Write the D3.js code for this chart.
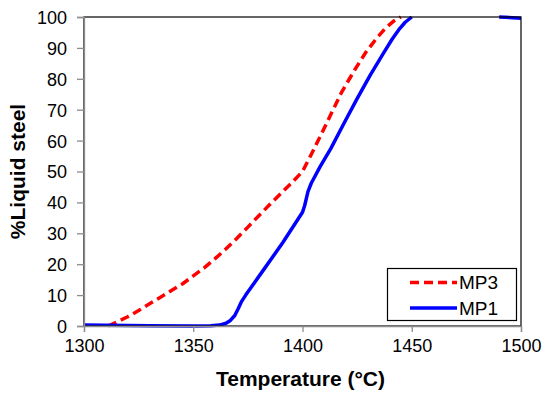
<!DOCTYPE html>
<html>
<head>
<meta charset="utf-8">
<script src="https://cdn.jsdelivr.net/npm/d3@7"></script>
<style>
  body { margin: 0; background: #fff; }
  text { font-family: Arial, "Liberation Sans", sans-serif; }
</style>
</head>
<body>
<svg width="550" height="399"></svg>
<script>
// values
var mp3Temp = [1311, 1315, 1320, 1325, 1330, 1335, 1340, 1345, 1350, 1355, 1360, 1365, 1370, 1375, 1380, 1385, 1390, 1395, 1400, 1404, 1408, 1413, 1418, 1424, 1429, 1434, 1438, 1442, 1445];
var mp3Liq  = [0, 1.3, 3.0, 5.0, 7.2, 9.3, 11.5, 13.6, 16.2, 18.8, 21.8, 25, 28.4, 32, 35.7, 39.3, 42.8, 46.3, 50, 55.5, 61.2, 68.5, 75.8, 83, 88.6, 93.2, 96.4, 98.8, 100];

var mp1Temp = [1300, 1330, 1350, 1358, 1362, 1365, 1367, 1369, 1370.5, 1372, 1374, 1378, 1382, 1391, 1400, 1401, 1402.5, 1404, 1408, 1413, 1419, 1425, 1431, 1437, 1441, 1444, 1447, 1450, null, 1490, 1500];
var mp1Liq  = [0.3, 0.1, 0, 0.1, 0.3, 0.9, 1.8, 3.4, 5.5, 7.8, 10, 14, 18, 27, 36.8, 39, 43.5, 46.2, 51.5, 57.5, 65.6, 73.6, 81.2, 88.2, 92.8, 95.8, 98.3, 100, null, 100, 99.6];

var xTicks = [1300, 1350, 1400, 1450, 1500];
var yTicks = [0, 10, 20, 30, 40, 50, 60, 70, 80, 90, 100];

var svg = d3.select("svg");
var plotLeft = 84, plotRight = 521, plotTop = 17, plotBottom = 326;

var x = d3.scaleLinear().domain([1300, 1500]).range([plotLeft, plotRight]);
var y = d3.scaleLinear().domain([0, 100]).range([plotBottom, plotTop]);

var mp3 = mp3Temp.map(function (t, i) { return {t: t, v: mp3Liq[i]}; });
var mp1 = mp1Temp.map(function (t, i) { return {t: t, v: mp1Liq[i]}; });

var line = d3.line()
    .defined(function (d) { return d.t !== null; })
    .x(function (d) { return x(d.t); })
    .y(function (d) { return y(d.v); });

svg.append("path")
    .datum(mp3)
    .attr("d", line)
    .attr("fill", "none")
    .attr("stroke", "#ff0000")
    .attr("stroke-width", 3.5)
    .attr("stroke-linejoin", "round")
    .attr("stroke-dasharray", "9,5");

svg.append("path")
    .datum(mp1)
    .attr("d", line)
    .attr("fill", "none")
    .attr("stroke", "#0000ff")
    .attr("stroke-linejoin", "round")
    .attr("stroke-width", 3.5);

// plot frame
svg.append("rect")
    .attr("x", plotLeft).attr("y", plotTop)
    .attr("width", plotRight - plotLeft).attr("height", plotBottom - plotTop)
    .attr("fill", "none")
    .attr("stroke", "#000")
    .attr("stroke-width", 1.2);

// axes
var xAxis = svg.append("g")
    .attr("transform", "translate(0," + plotBottom + ")")
    .call(d3.axisBottom(x).tickValues(xTicks).tickSize(6).tickPadding(6).tickFormat(d3.format("d")));
var yAxis = svg.append("g")
    .attr("transform", "translate(" + plotLeft + ",0)")
    .call(d3.axisLeft(y).tickValues(yTicks).tickSize(7).tickPadding(10));

[xAxis, yAxis].forEach(function (g) {
  g.select(".domain").attr("stroke", "#8c8c8c").attr("stroke-width", 1.3);
  g.selectAll(".tick line").attr("stroke", "#8c8c8c").attr("stroke-width", 1.3);
  g.selectAll(".tick text")
      .attr("fill", "#000")
      .style("font-size", "18px")
      .style("font-family", "Arial, 'Liberation Sans', sans-serif");
});
xAxis.selectAll(".tick text").attr("dy", "0.8em");
yAxis.selectAll(".tick text").attr("dy", "0.36em");

// axis titles
svg.append("text")
    .attr("x", (plotLeft + plotRight) / 2 - 2)
    .attr("y", 386)
    .attr("text-anchor", "middle")
    .style("font-size", "21px")
    .style("font-weight", "bold")
    .text("Temperature (°C)");

svg.append("text")
    .attr("transform", "translate(25," + ((plotTop + plotBottom) / 2) + ") rotate(-90)")
    .attr("text-anchor", "middle")
    .style("font-size", "21px")
    .style("font-weight", "bold")
    .text("%Liquid steel");

// legend
var legend = svg.append("g");
legend.append("rect")
    .attr("x", 387.5).attr("y", 268.5)
    .attr("width", 129).attr("height", 52)
    .attr("fill", "#fff")
    .attr("stroke", "#000")
    .attr("stroke-width", 1.2);

var legendItems = [
  {name: "MP3", color: "#ff0000", dash: "9,5"},
  {name: "MP1", color: "#0000ff", dash: null}
];
legendItems.forEach(function (d, i) {
  var ly = 282.5 + i * 25.5;
  legend.append("line")
      .attr("x1", 410).attr("x2", 457)
      .attr("y1", ly).attr("y2", ly)
      .attr("stroke", d.color)
      .attr("stroke-width", 3.5)
      .attr("stroke-dasharray", d.dash);
  legend.append("text")
      .attr("x", 459)
      .attr("y", ly + 6.5)
      .style("font-size", "19px")
      .text(d.name);
});
</script>
</body>
</html>
